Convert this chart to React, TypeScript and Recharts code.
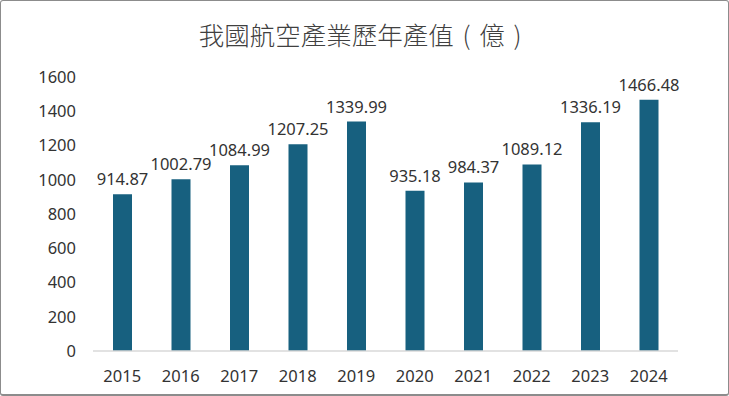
import { BarChart, Bar, XAxis, YAxis, LabelList } from 'recharts';

const years = ['2015', '2016', '2017', '2018', '2019', '2020', '2021', '2022', '2023', '2024'];
const outputValues = [914.87, 1002.79, 1084.99, 1207.25, 1339.99, 935.18, 984.37, 1089.12, 1336.19, 1466.48];
const yTicks = [0, 200, 400, 600, 800, 1000, 1200, 1400, 1600];

const data = years.map((year, i) => ({ year, value: outputValues[i] }));

const font = '"Noto Sans", "Noto Sans CJK TC", sans-serif';
const paren = { display: 'inline-block', width: '1em', textAlign: 'center' as const };

export default function App() {
  return (
    <div
      style={{
        position: 'absolute',
        left: 0,
        top: 0,
        width: 729,
        height: 396,
        boxSizing: 'border-box',
        border: '1px solid #8c8c8c',
        borderBottomWidth: 2,
        borderRadius: 3,
        background: '#fff',
        fontFamily: font,
      }}
    >
      <div
        style={{
          position: 'absolute',
          left: 0,
          top: 15,
          width: '100%',
          textAlign: 'center',
          fontSize: 25.5,
          lineHeight: '36px',
          color: '#404040',
          fontWeight: 300,
          fontFamily: '"Noto Sans CJK TC", sans-serif',
        }}
      >
        我國航空產業歷年產值<span style={paren}>(</span>億<span style={paren}>)</span>
      </div>
      <div style={{ position: 'absolute', left: -1, top: -1 }}>
        <BarChart
          width={729}
          height={396}
          data={data}
          margin={{ top: 77, right: 51, left: 0, bottom: 0 }}
        >
          <XAxis
            dataKey="year"
            height={45}
            axisLine={{ stroke: '#d9d9d9', strokeWidth: 1.5 }}
            tickLine={false}
            tickSize={0}
            tickMargin={19}
            tick={{ fill: '#333', fontSize: 16.5, fontFamily: font }}
          />
          <YAxis
            width={93}
            domain={[0, 1600]}
            ticks={yTicks}
            axisLine={false}
            tickLine={false}
            tickSize={0}
            tickMargin={17}
            tick={{ fill: '#333', fontSize: 16.5, fontFamily: font }}
          />
          <Bar dataKey="value" fill="#17607f" barSize={19} isAnimationActive={false}>
            <LabelList
              dataKey="value"
              position="top"
              offset={9}
              style={{ fill: '#333', fontSize: 16.5, fontFamily: font }}
            />
          </Bar>
        </BarChart>
      </div>
    </div>
  );
}
